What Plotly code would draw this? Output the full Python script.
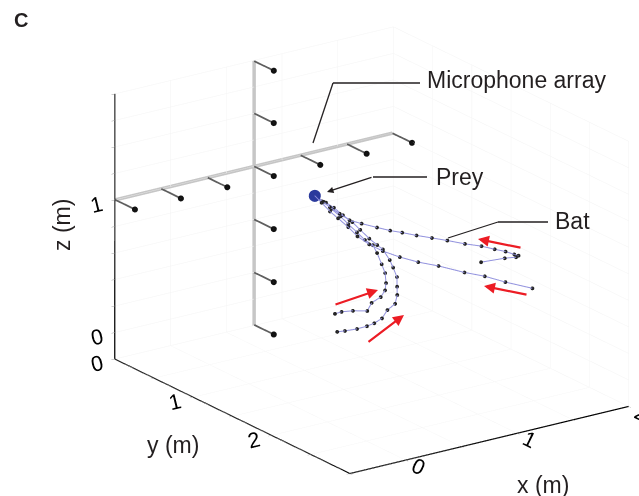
import plotly.graph_objects as go

# ---------------- data (metres) ----------------
x_tickvals = [-0.5, 0, 0.5, 1, 1.5, 2]
x_ticktext = ['', '0', '', '1', '', '2']
y_tickvals = [0, 0.5, 1, 1.5, 2, 2.5, 3]
y_ticktext = ['0', '', '1', '', '2', '', '']
z_tickvals = [-0.2, 0, 0.2, 0.4, 0.6, 0.8, 1.0, 1.2, 1.4, 1.6, 1.8]
z_ticktext = ['', '0', '', '', '', '', '1', '', '', '', '']

x_range = [-0.5, 2.0]
y_range = [0.0, 3.0]
z_range = [-0.2, 1.8]

# microphone array (cross-shaped frame in the y = 0 plane)
array_y = 0.0
array_bar_z = 1.0
array_post_x = 0.75
array_bar_x = [-0.495, 1.99]
array_post_z = [-0.2, 1.8]
mic_bar_x = [-0.495, -0.083, 0.333, 0.75, 1.167, 1.583, 1.99]
mic_post_z = [-0.195, 0.2, 0.6, 1.4, 1.795]
mic_len = 0.25

prey_x, prey_y, prey_z = 0.59, 1.00, 1.10

batA_x = [1.52, 1.76, 1.89, 1.94, 1.93, 1.88, 1.81, 1.72, 1.60, 1.47, 1.36, 1.25, 1.15, 1.07, 0.98, 0.87, 0.79, 0.73, 0.67, 0.63, 0.59]
batA_y = [1.80, 1.76, 1.72, 1.68, 1.64, 1.60, 1.56, 1.52, 1.48, 1.44, 1.40, 1.36, 1.32, 1.28, 1.24, 1.20, 1.16, 1.12, 1.08, 1.04, 1.00]
batA_z = [0.64, 0.61, 0.58, 0.57, 0.57, 0.59, 0.61, 0.64, 0.67, 0.71, 0.74, 0.77, 0.80, 0.82, 0.85, 0.89, 0.92, 0.97, 1.02, 1.06, 1.10]

batB_x = [1.98, 1.78, 1.63, 1.49, 1.30, 1.16, 1.03, 0.92, 0.84, 0.77, 0.73, 0.68, 0.65, 0.61, 0.59]
batB_y = [1.80, 1.74, 1.69, 1.63, 1.57, 1.51, 1.46, 1.40, 1.34, 1.29, 1.23, 1.17, 1.11, 1.06, 1.00]
batB_z = [0.35, 0.42, 0.48, 0.52, 0.59, 0.63, 0.68, 0.73, 0.78, 0.84, 0.90, 0.96, 1.00, 1.06, 1.10]

batC_x = [0.35, 0.43, 0.56, 0.71, 0.77, 0.88, 0.94, 0.97, 0.99, 0.98, 0.96, 0.95, 0.90, 0.85, 0.80, 0.75, 0.69, 0.65, 0.59]
batC_y = [1.60, 1.57, 1.53, 1.50, 1.47, 1.43, 1.40, 1.37, 1.33, 1.30, 1.27, 1.23, 1.20, 1.17, 1.13, 1.10, 1.07, 1.03, 1.00]
batC_z = [0.43, 0.42, 0.39, 0.35, 0.39, 0.40, 0.43, 0.47, 0.53, 0.59, 0.67, 0.72, 0.76, 0.82, 0.88, 0.94, 1.00, 1.05, 1.10]

batD_x = [0.37, 0.46, 0.59, 0.70, 0.78, 0.87, 0.94, 1.03, 1.07, 1.09, 1.11, 1.09, 1.08, 1.04, 1.01, 0.96, 0.90, 0.85, 0.78, 0.72, 0.67, 0.59]
batD_y = [1.60, 1.57, 1.54, 1.51, 1.49, 1.46, 1.43, 1.40, 1.37, 1.34, 1.31, 1.29, 1.26, 1.23, 1.20, 1.17, 1.14, 1.11, 1.09, 1.06, 1.03, 1.00]
batD_z = [0.29, 0.27, 0.25, 0.24, 0.24, 0.25, 0.29, 0.31, 0.36, 0.41, 0.47, 0.54, 0.59, 0.67, 0.70, 0.75, 0.82, 0.88, 0.94, 1.00, 1.04, 1.10]

bats = [(batA_x, batA_y, batA_z), (batB_x, batB_y, batB_z),
        (batC_x, batC_y, batC_z), (batD_x, batD_y, batD_z)]

W, H = 639, 496
FONT = 'Liberation Sans, Arial, Helvetica, sans-serif'

# y axis is drawn reversed (as in the original figure): plot -y, label with +y
def flip(v):
    return [-a for a in v]

fig = go.Figure()

# ---- microphone array frame ----
fig.add_trace(go.Scatter3d(
    x=array_bar_x, y=flip([array_y, array_y]), z=[array_bar_z, array_bar_z],
    mode='lines', line=dict(color='#c6c6c6', width=7), hoverinfo='skip'))
fig.add_trace(go.Scatter3d(
    x=[array_post_x, array_post_x], y=flip([array_y, array_y]), z=array_post_z,
    mode='lines', line=dict(color='#c6c6c6', width=7), hoverinfo='skip'))

mics = [(mx, array_bar_z) for mx in mic_bar_x] + [(array_post_x, mz) for mz in mic_post_z]
sx, sy, sz = [], [], []
ex, ey, ez = [], [], []
for mx, mz in mics:
    sx += [mx, mx, None]
    sy += [-array_y, -(array_y + mic_len), None]
    sz += [mz, mz, None]
    ex.append(mx)
    ey.append(-(array_y + mic_len))
    ez.append(mz)
fig.add_trace(go.Scatter3d(x=sx, y=sy, z=sz, mode='lines',
                           line=dict(color='#5e5e5e', width=3.5), hoverinfo='skip'))
fig.add_trace(go.Scatter3d(x=ex, y=ey, z=ez, mode='markers',
                           marker=dict(color='#111111', size=3.5), hoverinfo='skip'))

# ---- bat trajectories ----
for bx, by, bz in bats:
    fig.add_trace(go.Scatter3d(
        x=bx, y=flip(by), z=bz, mode='lines+markers',
        line=dict(color='rgb(146,146,222)', width=2),
        marker=dict(color='#222222', size=2.2),
        hoverinfo='skip'))

# ---- prey ----
fig.add_trace(go.Scatter3d(x=[prey_x], y=[-prey_y], z=[prey_z], mode='markers',
                           marker=dict(color='#2b3a9c', size=7), hoverinfo='skip'))

axis_common = dict(
    showbackground=False, showgrid=True, gridcolor='#f4f4f4', gridwidth=1,
    zeroline=False, showline=True, linecolor='black', linewidth=2.5,
    ticks='outside', ticklen=4, tickcolor='#a0a0a0',
    tickfont=dict(family=FONT, size=16, color='black'),
    title=dict(text=''), showspikes=False, autorange=False)

# camera: orthographic view (zoom set through the aspect ratio)
zoom = 1.374
out = (-0.540, -0.768, 0.342)
d = 3.0
cen = (-0.124 * zoom, 0.090 * zoom, 0.006 * zoom)
eye = dict(x=cen[0] + d * out[0], y=cen[1] + d * out[1], z=cen[2] + d * out[2])

fig.update_layout(
    width=W, height=H, margin=dict(l=0, r=0, t=0, b=0),
    paper_bgcolor='white', plot_bgcolor='white', showlegend=False,
    scene=dict(
        domain=dict(x=[0, 1], y=[0, 1]),
        xaxis=dict(axis_common, range=x_range, tickvals=x_tickvals, ticktext=x_ticktext),
        yaxis=dict(axis_common, range=[-y_range[1], -y_range[0]],
                   tickvals=flip(y_tickvals), ticktext=y_ticktext),
        zaxis=dict(axis_common, range=z_range, tickvals=z_tickvals, ticktext=z_ticktext),
        aspectmode='manual', aspectratio=dict(x=1.0 * zoom, y=1.2 * zoom, z=0.828 * zoom),
        camera=dict(projection=dict(type='orthographic'), up=dict(x=0, y=0, z=1),
                    center=dict(x=cen[0], y=cen[1], z=cen[2]), eye=eye),
    ),
)

def P(px, py):
    return px / W, 1 - py / H

annotations = []
shapes = []

def text(s, px, py, size=23, anchor='left', angle=0, bold=False):
    x, y = P(px, py)
    annotations.append(dict(x=x, y=y, xref='paper', yref='paper', text=('<b>%s</b>' % s) if bold else s,
                            showarrow=False, xanchor=anchor, yanchor='middle', textangle=angle,
                            font=dict(family=FONT, size=size, color='#231f20')))

def seg(p0, p1, color='#231f20', width=1.3):
    x0, y0 = P(*p0)
    x1, y1 = P(*p1)
    shapes.append(dict(type='line', xref='paper', yref='paper', x0=x0, y0=y0, x1=x1, y1=y1,
                       line=dict(color=color, width=width)))

def arrow(tip, tail, color, width, head=2, size=1.0):
    x, y = P(*tip)
    annotations.append(dict(x=x, y=y, xref='paper', yref='paper', text='', showarrow=True,
                            ax=tail[0] - tip[0], ay=tail[1] - tip[1],
                            arrowhead=head, arrowsize=size, arrowwidth=width, arrowcolor=color))

# labels & leader lines
text('C', 12, 20, size=20, bold=True)
text('Microphone array', 425, 80)
seg((420, 83), (333, 83))
seg((333, 83), (313, 143))
text('Prey', 434, 177)
seg((427, 177), (373, 177))
arrow((327, 192), (373, 177), '#231f20', 1.3, head=2, size=1.0)
text('Bat', 553, 221)
seg((548, 222), (498, 222))
seg((498, 222), (448, 238))

# red flight-direction arrows
RED = '#ec1c24'
arrow((478, 239), (522, 248), RED, 2.2, head=2, size=1.0)
arrow((484, 286), (528, 295), RED, 2.2, head=2, size=1.0)
arrow((378, 290), (334, 305), RED, 2.2, head=2, size=1.0)
arrow((404, 315), (367, 343), RED, 2.2, head=2, size=1.0)

# axis titles
text('z (m)', 62, 225, anchor='center', angle=-90)
text('y (m)', 173, 445, anchor='center')
text('x (m)', 543, 485, anchor='center')

fig.update_layout(annotations=annotations, shapes=shapes)

fig.write_html('out.html', config={'displayModeBar': False},
               post_script="document.body.style.margin='0';document.body.style.overflow='hidden';")
